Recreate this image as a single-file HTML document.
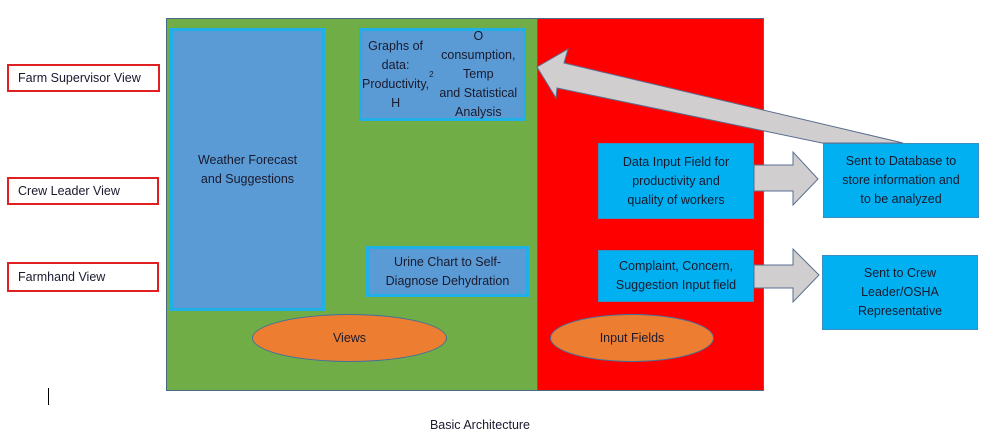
<!DOCTYPE html>
<html><head><style>
body{margin:0;width:987px;height:441px;background:#fff;position:relative;overflow:hidden;font-family:"Liberation Sans",sans-serif;font-size:12.5px;color:#1a1a2e}
.a{position:absolute;box-sizing:border-box}
.lab{border:2px solid #e02020;display:flex;align-items:center;padding-left:9px;background:#fff}
.c{display:flex;align-items:center;justify-content:center;text-align:center;line-height:19px}
.bb{background:#5b9bd5;border:3px solid #1fb0e8}
.cy{background:#00b0f0;border:1px solid #3a8fc0}
.el{background:#ed7d31;border:1px solid #41719c;border-radius:50%}
</style></head><body>
<div class="a lab" style="left:7px;top:64px;width:153px;height:28px">Farm Supervisor View</div>
<div class="a lab" style="left:7px;top:177px;width:152px;height:28px">Crew Leader View</div>
<div class="a lab" style="left:7px;top:262px;width:152px;height:30px">Farmhand View</div>
<div class="a" style="left:166px;top:18px;width:372px;height:373px;background:#70ad47;border:1px solid #4a6a8a"></div>
<div class="a" style="left:537px;top:18px;width:227px;height:373px;background:#ff0000;border:1px solid #4a6a8a"></div>
<div class="a c bb" style="left:170px;top:28px;width:155px;height:283px">Weather Forecast<br>and Suggestions</div>
<div class="a c bb" style="left:359px;top:28px;width:167px;height:93px">Graphs of data:<br>Productivity, H<sub style="font-size:8px">2</sub>O<br>consumption, Temp<br>and Statistical Analysis</div>
<div class="a c bb" style="left:366px;top:246px;width:163px;height:51px">Urine Chart to Self-<br>Diagnose Dehydration</div>
<div class="a c cy" style="left:598px;top:143px;width:156px;height:76px">Data Input Field for<br>productivity and<br>quality of workers</div>
<div class="a c cy" style="left:598px;top:250px;width:156px;height:52px">Complaint, Concern,<br>Suggestion Input field</div>
<div class="a c cy" style="left:823px;top:143px;width:156px;height:75px">Sent to Database to<br>store information and<br>to be analyzed</div>
<div class="a c cy" style="left:822px;top:255px;width:156px;height:75px">Sent to Crew<br>Leader/OSHA<br>Representative</div>
<div class="a c el" style="left:252px;top:314px;width:195px;height:48px">Views</div>
<div class="a c el" style="left:550px;top:314px;width:164px;height:48px">Input Fields</div>
<svg class="a" style="left:0;top:0" width="987" height="441">
<g fill="#d0cece" stroke="#5a6f8f" stroke-width="1">
<polygon points="537,67 568,49 564,63 903,143 822,143 557,88 556,98"/>
<polygon points="754,165 793,165 793,152 818,179 793,205 793,191 754,191"/>
<polygon points="754,265 793,265 793,249 819,275 793,302 793,288 754,288"/>
</g>
<line x1="48.5" y1="388" x2="48.5" y2="405" stroke="#000"/>
</svg>
<div class="a" style="left:380px;top:418px;width:200px;text-align:center;font-size:12.5px">Basic Architecture</div>
</body></html>
